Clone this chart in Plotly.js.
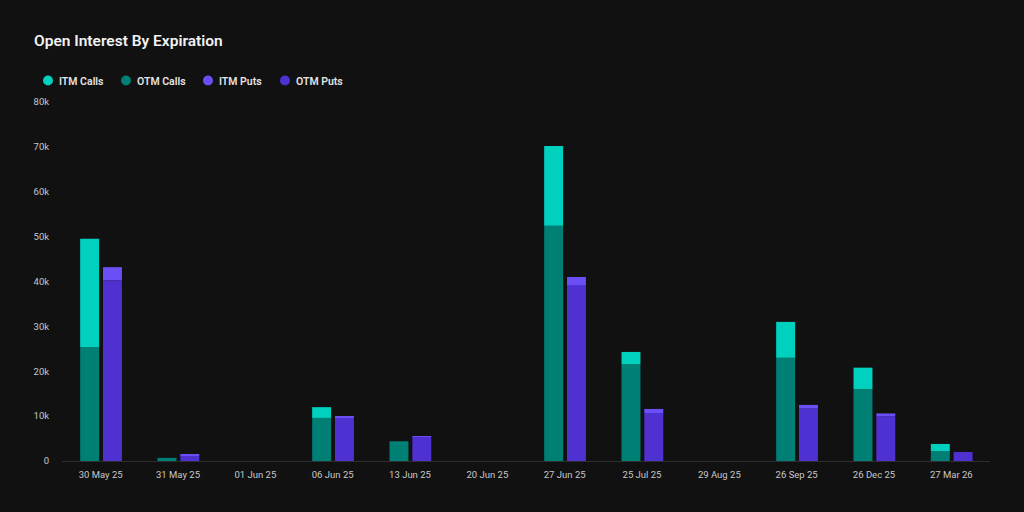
<!DOCTYPE html>
<html>
<head>
<meta charset="utf-8">
<script src="https://cdn.plot.ly/plotly-3.0.1.min.js"></script>
<style>html,body{margin:0;padding:0;background:#111112;}#chart{width:1024px;height:512px;}</style>
</head>
<body>
<div id="chart"></div>
<script>
const expirations = ['30 May 25','31 May 25','01 Jun 25','06 Jun 25','13 Jun 25','20 Jun 25','27 Jun 25','25 Jul 25','29 Aug 25','26 Sep 25','26 Dec 25','27 Mar 26'];
const otmCalls = [25400, 700, 0, 9600, 4400, 0, 52400, 21600, 0, 23000, 16000, 2200];
const itmCalls = [24100, 0, 0, 2400, 0, 0, 17800, 2700, 0, 8000, 4800, 1600];
const otmPuts  = [40300, 1300, 0, 9700, 5400, 0, 39200, 10700, 0, 11700, 10000, 2000];
const itmPuts  = [2900, 100, 0, 300, 100, 0, 1800, 900, 0, 800, 600, 0];
const colors = {itmCalls:'#00d1be', otmCalls:'#007f75', itmPuts:'#6b4ff6', otmPuts:'#4f30d0'};
const barW = 0.245;
function bar(name, y, base, color, left){
  return {type:'bar', name, x:expirations, y, base, width:barW,
    offset: left ? -0.265 : 0.03, marker:{color, line:{width:0}},
    legendgroup:name, showlegend:false, hoverinfo:'y+name'};
}
function key(name, color){
  return {type:'scatter', mode:'markers', name, x:[null], y:[null], legendgroup:name,
    marker:{color, size:10, symbol:'circle'}, showlegend:true};
}
const data = [
  bar('OTM Calls', otmCalls, null, colors.otmCalls, true),
  bar('ITM Calls', itmCalls, otmCalls, colors.itmCalls, true),
  bar('OTM Puts', otmPuts, null, colors.otmPuts, false),
  bar('ITM Puts', itmPuts, otmPuts, colors.itmPuts, false),
  key('ITM Calls', colors.itmCalls), key('OTM Calls', colors.otmCalls),
  key('ITM Puts', colors.itmPuts), key('OTM Puts', colors.otmPuts)
];
const layout = {
  width:1024, height:512, autosize:false,
  paper_bgcolor:'#111112', plot_bgcolor:'#111112',
  margin:{l:62, r:34, t:102, b:51},
  barmode:'overlay',
  font:{family:'Roboto, sans-serif', color:'#d0d0d0', size:10},
  title:{text:'Open Interest By Expiration', x:34/1024, xref:'container', xanchor:'left', y:1-41/512, yanchor:'middle',
    font:{family:'Roboto, sans-serif', size:15.5, color:'#f2f2f2', weight:600}},
  legend:{orientation:'h', x:-34/928, xanchor:'left', y:1+7/359, yanchor:'bottom', entrywidth:34, entrywidthmode:'pixels',
    traceorder:'normal', itemclick:false, itemdoubleclick:false, bgcolor:'rgba(0,0,0,0)',
    font:{family:'Roboto, sans-serif', size:10.5, color:'#e4e4e4', weight:600}},
  xaxis:{type:'category', categoryorder:'array', categoryarray:expirations, range:[-0.5,11.5],
    showgrid:false, zeroline:false, showline:true, linecolor:'#2e2e2e', linewidth:1,
    ticks:'outside', ticklen:5, tickcolor:'rgba(0,0,0,0)', tickangle:0,
    tickfont:{size:9.5, color:'#c8c8c8'}},
  yaxis:{range:[0,80000], tickvals:[0,10000,20000,30000,40000,50000,60000,70000,80000], tickformat:'~s',
    showgrid:false, zeroline:false, showline:false,
    ticks:'outside', ticklen:10, tickcolor:'rgba(0,0,0,0)',
    tickfont:{size:9.5, color:'#c8c8c8'}},
  showlegend:true
};
const legendNudge = [0, -1, 2, 0];
Plotly.newPlot('chart', data, layout, {displayModeBar:false, responsive:false}).then(function(gd){
  // bring the legend labels closer to their round keys and fine-tune entry spacing
  gd.querySelectorAll('.legend .traces').forEach(function(g, i){
    g.querySelector('.legendtext').setAttribute('x', 31);
    const m = /translate\(\s*([-\d.]+)[ ,]+([-\d.]+)\s*\)/.exec(g.getAttribute('transform') || '');
    if (m) g.setAttribute('transform', 'translate(' + (parseFloat(m[1]) + (legendNudge[i] || 0)) + ',' + m[2] + ')');
  });
});
</script>
</body>
</html>
